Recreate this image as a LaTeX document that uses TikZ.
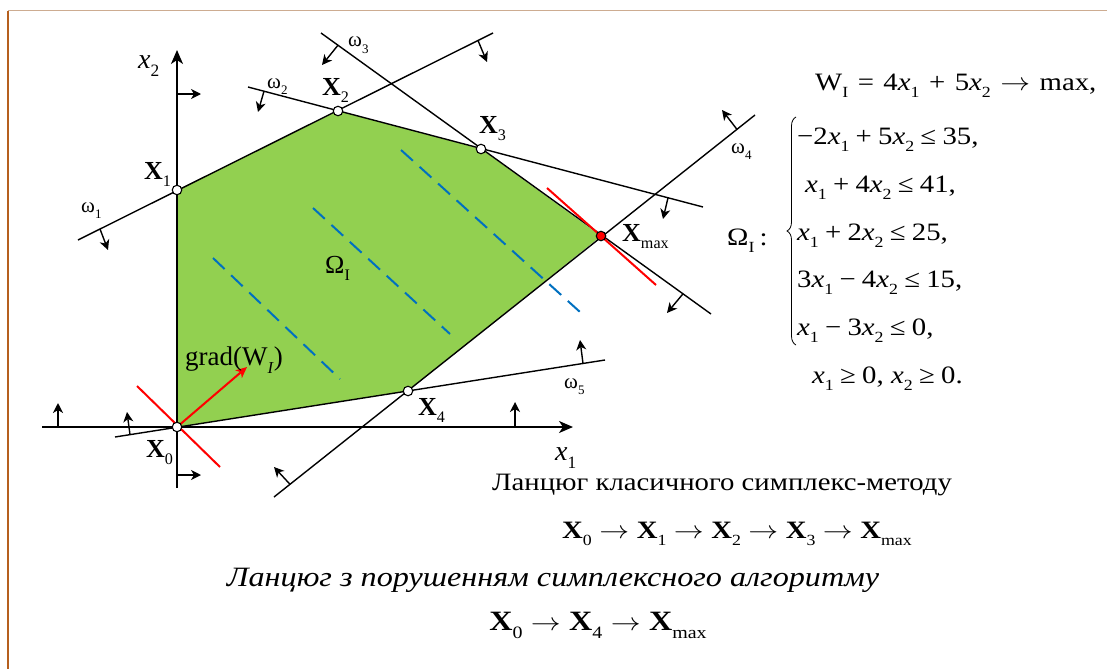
\documentclass[tikz,border=0pt]{standalone}
\usepackage{fontspec}
\setmainfont{Liberation Serif}
\newfontfamily\wfont{Liberation Serif}[FakeStretch=1.15]
\usepackage{graphicx}
\usetikzlibrary{arrows.meta,decorations.pathreplacing}
\definecolor{fillg}{RGB}{146,208,80}
\definecolor{dblue}{RGB}{0,112,192}
\definecolor{frtop}{RGB}{205,172,145}
\definecolor{frleft}{RGB}{181,95,30}
\newcommand{\dn}[1]{\raisebox{-0.3em}{\scalebox{0.62}{#1}}}
\newcommand{\fsz}[1]{\fontsize{#1}{#1}\selectfont}
\newcommand{\BX}[1]{\textbf{X}\dn{#1}}
\newcommand{\ix}[1]{\textit{x}\dn{#1}}
\newcommand{\op}[1]{\hspace{0.25em}#1\hspace{0.25em}}
\newcommand{\wop}[1]{\hspace{0.38em}#1\hspace{0.38em}}
\newcommand{\cop}[1]{\hspace{0.3em}#1\hspace{0.3em}}
\newcommand{\rarr}{\scalebox{1.2}[1]{$\rightarrow$}}
\begin{document}
\begin{tikzpicture}[x=1pt,y=-1pt,
  cline/.style={line width=1.4pt,black},
  axisline/.style={line width=2pt,-{Stealth[length=14pt,width=12pt,inset=4pt]}},
  ind/.style={line width=1.4pt,-{Stealth[length=10pt,width=10pt,inset=3pt]}},
  vtx/.style={circle,draw,line width=1.1pt,fill=white,inner sep=0pt,minimum size=9.5pt},
  lvl/.style={red,line width=2pt},
  dsh/.style={dblue,line width=2pt,dash pattern=on 16pt off 9pt},
  lbl/.style={font=\fsz{26},inner sep=0pt,anchor=base west},
  axl/.style={font=\fsz{28},inner sep=0pt,anchor=base west},
  wl/.style={font=\fsz{21},inner sep=0pt,anchor=base west},
  frm/.style={font=\wfont\fsz{25},inner sep=0pt,anchor=base west},
  txt/.style={font=\wfont\fsz{25},inner sep=0pt,anchor=base},
  txtb/.style={font=\wfont\fsz{28},inner sep=0pt,anchor=base}]
\useasboundingbox (0,0) rectangle (1107,669);
% frame
\draw[frtop,line width=1pt] (8,11) -- (1107,11);
\draw[frleft,line width=1.5pt] (8,11) -- (8,669);
% vertices
\coordinate (c0) at (177,427);
\coordinate (c1) at (177,190);
\coordinate (c2) at (338,111);
\coordinate (c3) at (481,149);
\coordinate (cm) at (601,236);
\coordinate (c4) at (408,391);
% feasible region
\fill[fillg] (c0) -- (c1) -- (c2) -- (c3) -- (cm) -- (c4) -- cycle;
% level lines (dashed)
\draw[dsh] (213,258) -- (340,379);
\draw[dsh] (313,208) -- (450,334);
\draw[dsh] (401,150) -- (580,312);
% constraint lines
\coordinate (A1) at (78,240);  \coordinate (B1) at (493,33);
\coordinate (A2) at (248,87);  \coordinate (B2) at (703,207);
\coordinate (A3) at (321,33);  \coordinate (B3) at (711,314);
\coordinate (A4) at (274,497); \coordinate (B4) at (755,115);
\coordinate (A5) at (115,437); \coordinate (B5) at (605,360);
\draw[cline] (A1) -- (B1);
\draw[cline] (A2) -- (B2);
\draw[cline] (A3) -- (B3);
\draw[cline] (A4) -- (B4);
\draw[cline] (A5) -- (B5);
% direction indicators
\draw[ind] (100,229) -- (108,250);
\draw[ind] (478,40.5) -- (487,62);
\draw[ind] (264,91.2) -- (258,112);
\draw[ind] (668,197.8) -- (663,219);
\draw[ind] (338,45.2) -- (322,65);
\draw[ind] (683,293.8) -- (667,313);
\draw[ind] (737,129.4) -- (722,110);
\draw[ind] (290,484.3) -- (274,467);
\draw[ind] (130,434.6) -- (127,412);
\draw[ind] (583,363.5) -- (580,340);
% axes
\coordinate (ax1s) at (42,427);  \coordinate (ax1e) at (573,427);
\coordinate (ax2s) at (177,488); \coordinate (ax2e) at (177,50);
\draw[axisline] (ax1s) -- (ax1e);
\draw[axisline] (ax2s) -- (ax2e);
\draw[ind] (58,427) -- (58,403);
\draw[ind] (515,427) -- (515,402);
\draw[ind] (177,94) -- (201,94);
\draw[ind] (177,475) -- (201,475);
% red level lines and gradient
\draw[lvl] (137,386) -- (220,467);
\draw[lvl] (547,188) -- (656,285);
\coordinate (gend) at (247,367);
\draw[lvl,-{Stealth[length=11pt,width=10pt,inset=3pt]}] (c0) -- (gend);
% vertex markers
\node[vtx] (X0) at (c0) {};
\node[vtx] (X1) at (c1) {};
\node[vtx] (X2) at (c2) {};
\node[vtx] (X3) at (c3) {};
\node[vtx,fill=red] (Xm) at (cm) {};
\node[vtx] (X4) at (c4) {};
% labels
\node[lbl] (lX0) at (146,457) {\BX{0}};
\node[lbl] (lX1) at (144,179) {\BX{1}};
\node[lbl] (lX2) at (322,95) {\BX{2}};
\node[lbl] (lX3) at (479,133) {\BX{3}};
\node[lbl] (lXm) at (622,241) {\BX{max}};
\node[lbl] (lX4) at (418,415) {\BX{4}};
\node[lbl] (lOm) at (325,273) {Ω\dn{I}};
\node[lbl,font=\fsz{27}] (lgr) at (185,365) {grad(W\dn{\textit{I}})};
\node[axl] (lx2) at (138,68) {\ix{2}};
\node[axl] (lx1) at (555,460) {\ix{1}};
\node[wl] (w1) at (81,212) {ω\dn{1}};
\node[wl] (w2) at (267,88) {ω\dn{2}};
\node[wl] (w3) at (348,47) {ω\dn{3}};
\node[wl] (w4) at (731,153) {ω\dn{4}};
\node[wl] (w5) at (564,388) {ω\dn{5}};
% formulas
\node[frm] (fW) at (815,90) {W\dn{I}\wop{=}4\ix{1}\wop{+}5\ix{2}\wop{\rarr}max,};
\node[frm] (f1) at (797,144) {−2\ix{1}\op{+}5\ix{2}\op{≤}35,};
\node[frm] (f2) at (805,192) {\ix{1}\op{+}4\ix{2}\op{≤}41,};
\node[frm] (f3) at (797,240) {\ix{1}\op{+}2\ix{2}\op{≤}25,};
\node[frm] (f4) at (797,287) {3\ix{1}\op{−}4\ix{2}\op{≤}15,};
\node[frm] (f5) at (797,335) {\ix{1}\op{−}3\ix{2}\op{≤}0,};
\node[frm] (f6) at (812,383) {\ix{1}\op{≥}0,\hspace{0.3em}\ix{2}\op{≥}0.};
\node[frm] (fO) at (727,245) {Ω\dn{I}\hspace{0.2em}:};
\draw[line width=0.8pt,decorate,decoration={brace,amplitude=9pt}] (796,345) -- (796,117);
% bottom texts
\node[txt] (t1) at (722,490) {Ланцюг класичного симплекс-методу};
\node[txt] (t2) at (737,538) {\BX{0}\cop{\rarr}\BX{1}\cop{\rarr}\BX{2}\cop{\rarr}\BX{3}\cop{\rarr}\BX{max}};
\node[txtb] (t3) at (553,586) {\itshape Ланцюг з порушенням симплексного алгоритму};
\node[txtb] (t4) at (598,630) {\BX{0}\cop{\rarr}\BX{4}\cop{\rarr}\BX{max}};
\end{tikzpicture}
\end{document}
